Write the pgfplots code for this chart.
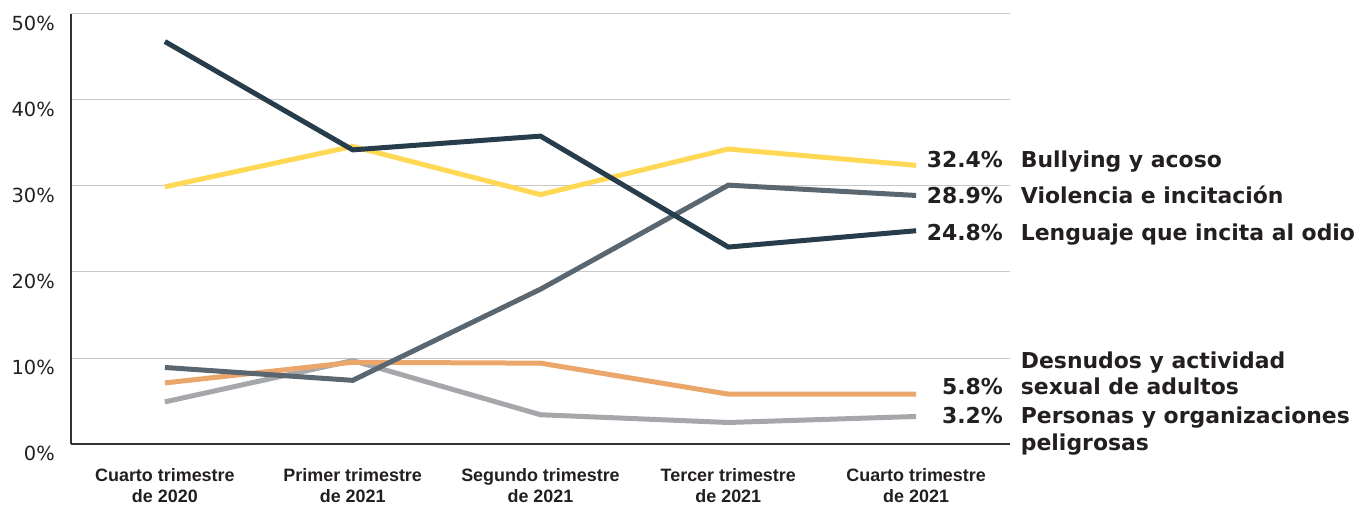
\documentclass[border=0pt]{standalone}
\usepackage{pgfplots}
\pgfplotsset{compat=1.18}
\usepackage{fontspec}
\setmainfont{DejaVu Sans}
\newfontfamily\catfont{Liberation Sans}

\definecolor{cYellow}{HTML}{FFD955}
\definecolor{cNavy}{HTML}{283D4B}
\definecolor{cSlate}{HTML}{5A6670}
\definecolor{cOrange}{HTML}{EBA66C}
\definecolor{cGrey}{HTML}{A6A7AB}
\definecolor{cAxis}{HTML}{333333}
\definecolor{cGrid}{HTML}{C8C8C8}
\definecolor{cText}{HTML}{231F20}

\begin{document}
\begin{tikzpicture}
\path[use as bounding box] (-71bp,-61bp) rectangle (1287bp,444bp);
\begin{axis}[
  at={(0,0)}, anchor=south west,
  scale only axis, width=939bp, height=430bp,
  xmin=-0.5, xmax=4.5, ymin=0, ymax=50,
  axis x line*=bottom, axis y line*=left,
  axis line style={color=cAxis, line width=2.5bp},
  major tick length=0pt,
  xtick={0,1,2,3,4},
  xticklabels={Cuarto trimestre\\de 2020, Primer trimestre\\de 2021,
    Segundo trimestre\\de 2021, Tercer trimestre\\de 2021,
    Cuarto trimestre\\de 2021},
  xticklabel style={font=\catfont\bfseries\fontsize{18}{20.5}\selectfont,
    align=center, anchor=north, inner sep=0pt, yshift=-24.5bp, text=cText},
  ytick={0,10,20,30,40,50},
  yticklabels={0\%,10\%,20\%,30\%,40\%,50\%},
  yticklabel style={font=\fontsize{19.5}{22}\selectfont, anchor=north east,
    inner sep=0pt, xshift=-16bp, yshift=-2bp, text=cText},
  ymajorgrids, grid style={color=cGrid, line width=1bp},
  clip=false,
  every axis plot/.append style={line width=5bp, mark=none},
]
% Personas y organizaciones peligrosas
\addplot[cGrey] coordinates {(0,4.9) (1,9.7) (2,3.4) (3,2.5) (4,3.2)};
% Desnudos y actividad sexual de adultos
\addplot[cOrange] coordinates {(0,7.1) (1,9.5) (2,9.4) (3,5.8) (4,5.8)};
% Bullying y acoso
\addplot[cYellow] coordinates {(0,29.9) (1,34.6) (2,29.0) (3,34.3) (4,32.4)};
% Violencia e incitación
\addplot[cSlate] coordinates {(0,8.9) (1,7.4) (2,18.0) (3,30.1) (4,28.9)};
% Lenguaje que incita al odio
\addplot[cNavy] coordinates {(0,46.8) (1,34.2) (2,35.8) (3,22.9) (4,24.8)};

% end-of-line values and series names
\tikzset{val/.style={anchor=base east, inner sep=0pt, text=cText,
    font=\bfseries\fontsize{22}{27}\selectfont},
  nam/.style={anchor=base west, inner sep=0pt, text=cText,
    font=\bfseries\fontsize{22}{27}\selectfont}}
\node[val] at (axis cs:4.463,32.2) {32.4\%};
\node[nam] at (axis cs:4.557,32.2) {Bullying y acoso};
\node[val] at (axis cs:4.463,28.0) {28.9\%};
\node[nam] at (axis cs:4.557,28.0) {Violencia e incitación};
\node[val] at (axis cs:4.463,23.7) {24.8\%};
\node[nam] at (axis cs:4.557,23.7) {Lenguaje que incita al odio};
\node[nam] at (axis cs:4.557,8.8) {Desnudos y actividad};
\node[val] at (axis cs:4.463,5.7) {5.8\%};
\node[nam] at (axis cs:4.557,5.7) {sexual de adultos};
\node[val] at (axis cs:4.463,2.4) {3.2\%};
\node[nam] at (axis cs:4.557,2.4) {Personas y organizaciones};
\node[nam] at (axis cs:4.557,-0.75) {peligrosas};
\end{axis}
\end{tikzpicture}
\end{document}
